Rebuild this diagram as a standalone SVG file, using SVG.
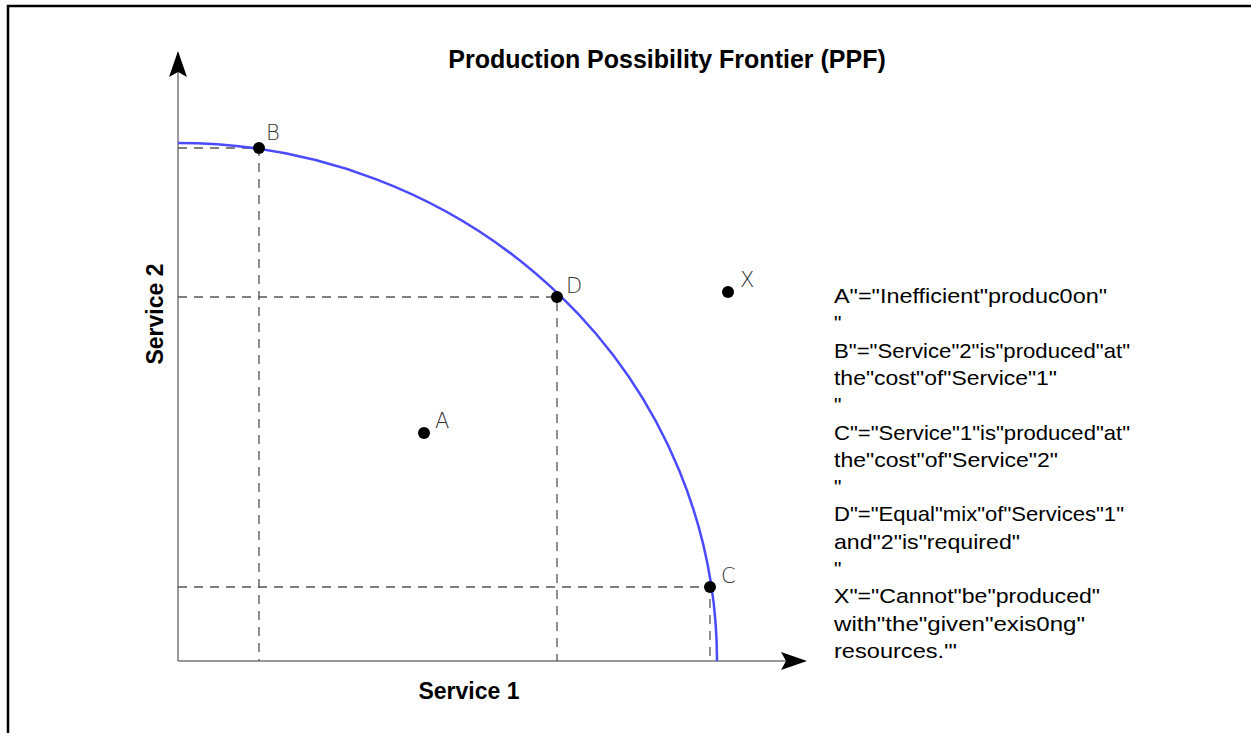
<svg xmlns="http://www.w3.org/2000/svg" width="1251" height="733" viewBox="0 0 1251 733">
<style>
.axis{stroke:#777;stroke-width:1.5;fill:none}
.dash{stroke:#555;stroke-width:1.3;stroke-dasharray:9,7;fill:none}
.ppf{stroke:#4a4aff;stroke-width:2.5;fill:none}
.dot{fill:#000}
.lbl{font-family:"DejaVu Sans","Liberation Sans",sans-serif;font-weight:200;font-size:21px;fill:#333}
.title{font-family:"Liberation Sans",Arial,sans-serif;font-weight:bold;font-size:25px;fill:#000}
.ax{font-family:"Liberation Sans",Arial,sans-serif;font-weight:bold;font-size:23px;fill:#000}
.note{font-family:"Liberation Sans",Arial,sans-serif;font-size:21px;fill:#000}
</style>
<defs>
<marker id="ah" markerWidth="26" markerHeight="18" refX="24" refY="9" orient="auto" markerUnits="userSpaceOnUse" viewBox="0 0 26 18">
<path d="M0,0 L26,9 L0,18 L5,9 Z" fill="#000"/>
</marker>
</defs>
<rect x="0" y="0" width="1251" height="733" fill="#fff"/>
<path d="M8,740 L8,6 L1260,6" fill="none" stroke="#000" stroke-width="2.5"/>
<text class="title" x="667" y="68" text-anchor="middle">Production Possibility Frontier (PPF)</text>
<g id="connectors">
<line class="axis" x1="178" y1="661" x2="178" y2="53" marker-end="url(#ah)"/>
<line class="axis" x1="178" y1="661" x2="805" y2="661" marker-end="url(#ah)"/>
<path class="dash" d="M178,148 H259 V661"/>
<path class="dash" d="M178,297 H557 V661"/>
<path class="dash" d="M178,587 H710 V661"/>
<path class="ppf" d="M178,143 A539,518 0 0 1 717,661"/>
</g>
<text class="ax" x="469" y="699" text-anchor="middle">Service 1</text>
<text class="ax" transform="translate(163,314) rotate(-90)" text-anchor="middle">Service 2</text>
<g id="A"><circle class="dot" cx="424" cy="433" r="6"/><text class="lbl" x="435" y="428">A</text></g>
<g id="B"><circle class="dot" cx="259" cy="148" r="6"/><text class="lbl" x="266" y="140">B</text></g>
<g id="D"><circle class="dot" cx="557" cy="297" r="6"/><text class="lbl" x="566" y="293">D</text></g>
<g id="C"><circle class="dot" cx="710" cy="587" r="6"/><text class="lbl" x="721" y="583">C</text></g>
<g id="X"><circle class="dot" cx="728" cy="292" r="6"/><text class="lbl" x="740" y="287">X</text></g>
<g id="legend">
<text class="note" x="834" y="303" textLength="273" lengthAdjust="spacingAndGlyphs">A"="Inefficient"produc0on"</text>
<text class="note" x="834" y="330">"</text>
<text class="note" x="834" y="358" textLength="296" lengthAdjust="spacingAndGlyphs">B"="Service"2"is"produced"at"</text>
<text class="note" x="834" y="385" textLength="223" lengthAdjust="spacingAndGlyphs">the"cost"of"Service"1"</text>
<text class="note" x="834" y="412">"</text>
<text class="note" x="834" y="440" textLength="296" lengthAdjust="spacingAndGlyphs">C"="Service"1"is"produced"at"</text>
<text class="note" x="834" y="467" textLength="224" lengthAdjust="spacingAndGlyphs">the"cost"of"Service"2"</text>
<text class="note" x="834" y="494">"</text>
<text class="note" x="834" y="521" textLength="290" lengthAdjust="spacingAndGlyphs">D"="Equal"mix"of"Services"1"</text>
<text class="note" x="834" y="549" textLength="186" lengthAdjust="spacingAndGlyphs">and"2"is"required"</text>
<text class="note" x="834" y="576">"</text>
<text class="note" x="834" y="603" textLength="266" lengthAdjust="spacingAndGlyphs">X"="Cannot"be"produced"</text>
<text class="note" x="834" y="631" textLength="251" lengthAdjust="spacingAndGlyphs">with"the"given"exis0ng"</text>
<text class="note" x="834" y="658" textLength="123" lengthAdjust="spacingAndGlyphs">resources.'"</text>
</g>
</svg>
